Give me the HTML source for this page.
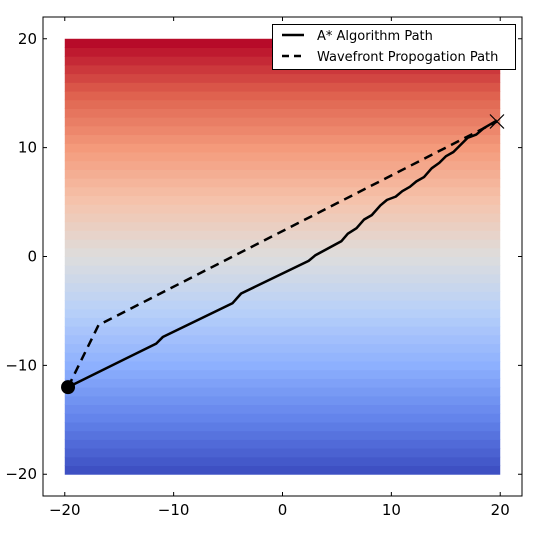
<!DOCTYPE html>
<html><head><meta charset="utf-8"><style>
body{margin:0;background:#fff}
text{font-family:"DejaVu Sans","Liberation Sans",sans-serif}
</style></head><body>
<svg id="chart" width="547" height="531" xmlns="http://www.w3.org/2000/svg">
<rect width="547" height="531" fill="#fff"/>
<g id="bands"></g>
<g id="paths"></g>
<rect x="43" y="17" width="479" height="479" fill="none" stroke="#000" stroke-width="1"/>
<g id="ticks"></g>
<g>
<rect x="272.5" y="24.5" width="243" height="45" fill="#fff" stroke="#000" stroke-width="1"/>
<line x1="282" y1="35" x2="304" y2="35" stroke="#000" stroke-width="2.5"/>
<text x="317" y="40" font-size="13">A* Algorithm Path</text>
<line x1="282" y1="56" x2="304" y2="56" stroke="#000" stroke-width="2.5" stroke-dasharray="7,5"/>
<text x="317" y="61" font-size="13">Wavefront Propogation Path</text>
</g>
</svg>
<script>
const ticks=[-20,-10,0,10,20];
const astarX=[-19.7,-11.6,-11,-4.6,-3.8,2.4,3,5.4,6,6.8,7.5,8.2,9,9.6,10.4,11,11.7,12.3,13,13.7,14.4,15,15.7,16.4,17,17.8,18.5,19.7];
const astarY=[-12,-8,-7.4,-4.3,-3.4,-0.4,0.1,1.4,2.1,2.6,3.4,3.8,4.7,5.2,5.5,6.0,6.4,6.9,7.3,8.1,8.6,9.2,9.6,10.3,10.9,11.2,11.8,12.5];
const waveX=[-19.7,-16.9,19.7];
const waveY=[-12,-6.3,12.4];
const NS='http://www.w3.org/2000/svg';
const sx=v=>43+(v+22)*479/44, sy=v=>17+(22-v)*479/44;
function mk(t,a,p){const e=document.createElementNS(NS,t);for(const k in a)e.setAttribute(k,a[k]);p.appendChild(e);return e;}
function cw(t){const st=[[59,76,192],[98,130,234],[141,176,254],[184,208,249],[221,221,221],[245,196,173],[244,154,123],[222,96,77],[180,4,38]];
 const f=t*(st.length-1),i=Math.min(Math.floor(f),st.length-2),r=f-i;
 return 'rgb('+st[i].map((c,j)=>Math.round(c+(st[i+1][j]-c)*r)).join(',')+')';}
const bands=document.getElementById('bands');
const N=50;
for(let i=0;i<N;i++){const y0=-20+40*i/N,y1=-20+40*(i+1)/N;
 const r=mk('rect',{x:sx(-20),y:sy(y1),width:sx(20)-sx(-20),height:sy(y0)-sy(y1)+0.5,fill:cw((i+0.5)/N)},bands);
 
 }
const g=document.getElementById('paths');
const a=mk('polyline',{points:astarX.map((x,i)=>sx(x)+','+sy(astarY[i])).join(' '),fill:'none',stroke:'#000','stroke-width':2.5,'stroke-linejoin':'round'},g);


const w=mk('polyline',{points:waveX.map((x,i)=>sx(x)+','+sy(waveY[i])).join(' '),fill:'none',stroke:'#000','stroke-width':2.5,'stroke-dasharray':'9,6'},g);


const c=mk('circle',{cx:sx(astarX[0]),cy:sy(astarY[0]),r:7,fill:'#000'},g);


const ex=sx(19.7),ey=sy(12.4);
const xm=mk('path',{d:`M${ex-7},${ey-7}L${ex+7},${ey+7}M${ex-7},${ey+7}L${ex+7},${ey-7}`,stroke:'#000','stroke-width':1.2},g);


const tg=document.getElementById('ticks');
ticks.forEach(t=>{
 const X=sx(t),Y=sy(t);
 mk('path',{d:`M${X},496V492M${X},17V21M43,${Y}H47M522,${Y}H518`,stroke:'#000','stroke-width':1},tg);
 const lx=mk('text',{x:X,y:515,'font-size':15,'text-anchor':'middle'},tg);
 lx.textContent=String(t).replace('-','\u2212');
 
 
 const ly=mk('text',{x:37,y:Y+5,'font-size':15,'text-anchor':'end'},tg);
 ly.textContent=String(t).replace('-','\u2212');
 
 
});
</script>
</body></html>
